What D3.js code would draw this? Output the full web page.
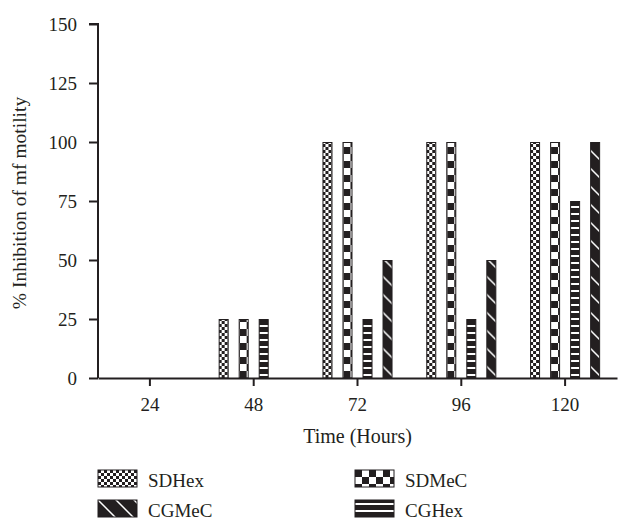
<!DOCTYPE html>
<html>
<head>
<meta charset="utf-8">
<script src="https://cdn.jsdelivr.net/npm/d3@7"></script>
<style>
  body { margin: 0; background: #fff; }
  text { font-family: "Liberation Serif", "DejaVu Serif", serif; fill: #231f20; }
</style>
</head>
<body>
<div id="chart"></div>
<script>
const categories = ["24", "48", "72", "96", "120"];
const seriesNames = ["SDHex", "SDMeC", "CGHex", "CGMeC"];
const sdhex = [0, 25, 100, 100, 100];
const sdmec = [0, 25, 100, 100, 100];
const cghex = [0, 25, 25, 25, 75];
const cgmec = [0, 0, 50, 50, 100];
const yTicks = [0, 25, 50, 75, 100, 125, 150];
const legendOrder = ["SDHex", "SDMeC", "CGMeC", "CGHex"];

const dark = "#231f20";
const W = 618, H = 519;
const margin = { top: 24, right: 1, bottom: 141, left: 98 };

const svg = d3.select("#chart").append("svg")
    .attr("width", W).attr("height", H);

// fill patterns
const defs = svg.append("defs");

let p = defs.append("pattern").attr("id", "pat-SDHex")
    .attr("patternUnits", "userSpaceOnUse").attr("width", 6).attr("height", 6);
p.append("rect").attr("width", 6).attr("height", 6).attr("fill", "#fff");
p.append("rect").attr("width", 3).attr("height", 3).attr("fill", dark);
p.append("rect").attr("x", 3).attr("y", 3).attr("width", 3).attr("height", 3).attr("fill", dark);

p = defs.append("pattern").attr("id", "pat-SDMeC")
    .attr("patternUnits", "userSpaceOnUse").attr("width", 14).attr("height", 14);
p.append("rect").attr("width", 14).attr("height", 14).attr("fill", "#fff");
p.append("rect").attr("width", 7).attr("height", 7).attr("fill", dark);
p.append("rect").attr("x", 7).attr("y", 7).attr("width", 7).attr("height", 7).attr("fill", dark);

p = defs.append("pattern").attr("id", "pat-CGHex")
    .attr("patternUnits", "userSpaceOnUse").attr("width", 10).attr("height", 7);
p.append("rect").attr("width", 10).attr("height", 7).attr("fill", dark);
p.append("rect").attr("y", 3).attr("width", 10).attr("height", 2).attr("fill", "#fff");

p = defs.append("pattern").attr("id", "pat-CGMeC")
    .attr("patternUnits", "userSpaceOnUse").attr("width", 18).attr("height", 18);
p.append("rect").attr("width", 18).attr("height", 18).attr("fill", dark);
p.append("path").attr("d", "M0,0L18,18M-9,9L9,27M9,-9L27,9")
    .attr("stroke", "#fff").attr("stroke-width", 1.5);

const data = categories.map((c, i) => ({
    cat: c,
    values: [
        { key: "SDHex", v: sdhex[i] },
        { key: "SDMeC", v: sdmec[i] },
        { key: "CGHex", v: cghex[i] },
        { key: "CGMeC", v: cgmec[i] }
    ]
}));

const x0 = d3.scaleBand()
    .domain(categories)
    .range([margin.left, W - margin.right])
    .paddingInner(0.325)
    .paddingOuter(0.1625);

const x1 = d3.scaleBand()
    .domain(seriesNames)
    .range([0, x0.bandwidth()])
    .paddingInner(0.5);

const y = d3.scaleLinear()
    .domain([0, 150])
    .range([H - margin.bottom, margin.top]);

// bars
const groups = svg.append("g").selectAll("g")
    .data(data)
    .enter().append("g")
    .attr("transform", d => "translate(" + x0(d.cat) + ",0)");

groups.selectAll("rect")
    .data(d => d.values.filter(v => v.v > 0))
    .enter().append("rect")
    .attr("x", d => x1(d.key) + 0.5)
    .attr("y", d => y(d.v) + 0.5)
    .attr("width", x1.bandwidth() - 1)
    .attr("height", d => y(0) - y(d.v) - 0.5)
    .attr("fill", d => "url(#pat-" + d.key + ")")
    .attr("stroke", dark)
    .attr("stroke-width", 1);

// axes
const yAxis = svg.append("g")
    .attr("transform", "translate(" + margin.left + ",0)")
    .call(d3.axisLeft(y).tickValues(yTicks).tickSize(9).tickPadding(12));

const xAxis = svg.append("g")
    .attr("transform", "translate(0," + y(0) + ")")
    .call(d3.axisBottom(x0).tickSize(8).tickPadding(12).tickSizeOuter(0));

[yAxis, xAxis].forEach(a => {
    a.select(".domain").attr("stroke", dark).attr("stroke-width", 2);
    a.selectAll(".tick line").attr("stroke", dark).attr("stroke-width", 2);
    a.selectAll(".tick text")
        .attr("fill", dark)
        .style("font-family", "'Liberation Serif', serif")
        .style("font-size", "19px");
});
yAxis.select(".domain").attr("d", "M-9," + y(150) + "H0V" + y(0));

// axis titles
svg.append("text")
    .attr("transform", "translate(26," + (y(75) + 2) + ") rotate(-90)")
    .attr("text-anchor", "middle")
    .style("font-size", "19.5px")
    .text("% Inhibition of mf motility");

svg.append("text")
    .attr("x", x0("72") + x0.bandwidth() / 2)
    .attr("y", 443)
    .attr("text-anchor", "middle")
    .style("font-size", "20px")
    .text("Time (Hours)");

// legend
const legend = svg.append("g").selectAll("g")
    .data(legendOrder)
    .enter().append("g")
    .attr("transform", (d, i) => "translate(" + (i % 2 === 0 ? 98 : 355) + "," + (470 + Math.floor(i / 2) * 30) + ")");

legend.append("rect")
    .attr("width", 39).attr("height", 17)
    .attr("fill", d => "url(#pat-" + d + ")")
    .attr("stroke", dark).attr("stroke-width", 1);

legend.append("text")
    .attr("x", 50).attr("y", 16.5)
    .style("font-size", "19px")
    .text(d => d);
</script>
</body>
</html>
